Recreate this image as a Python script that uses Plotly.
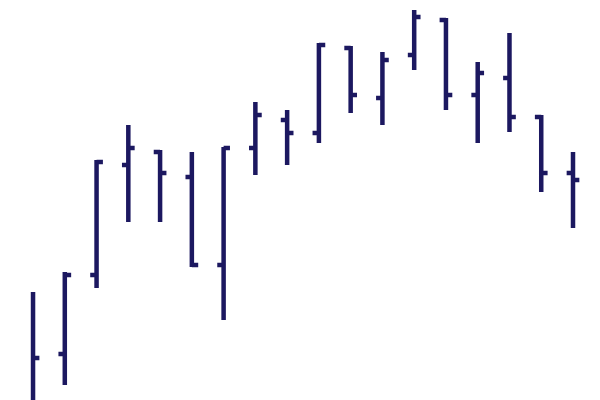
import plotly.graph_objects as go

x_idx = list(range(18))
open_ = [7.5, 21.5, 41.25, 68.75, 72, 65.75, 43.75, 73, 80, 76.75, 98, 85.5, 96.25, 105, 86.25, 90.5, 80.75, 66.75]
high = [37, 42, 70, 78.75, 72.5, 72, 73.25, 84.5, 82.5, 99.25, 98.5, 97, 107.5, 105.5, 94.5, 101.75, 81.25, 72]
low = [5, 13.75, 38, 54.5, 54.5, 43.25, 30, 66.25, 68.75, 74.25, 81.75, 78.75, 92.5, 82.5, 74.25, 77, 62, 53]
close = [20.5, 41.25, 69.5, 73, 66.75, 43.75, 73, 81.25, 76.75, 98.75, 86.25, 95, 105.75, 86.25, 91.75, 80.75, 66.75, 65]

color = "#1c1860"
fig = go.Figure(go.Ohlc(
    x=x_idx, open=open_, high=high, low=low, close=close,
    increasing=dict(line=dict(color=color, width=4.5)),
    decreasing=dict(line=dict(color=color, width=4.5)),
    tickwidth=0.2,
    hoverinfo="skip",
))
fig.update_layout(
    width=600, height=400,
    margin=dict(l=0, r=0, t=0, b=0),
    paper_bgcolor="white", plot_bgcolor="white",
    showlegend=False,
    hovermode=False,
    xaxis=dict(range=[-1.04, 17.85], visible=False, rangeslider=dict(visible=False), fixedrange=True),
    yaxis=dict(range=[10, 110], visible=False, fixedrange=True),
)
fig.write_html(
    "out.html",
    config={"displayModeBar": False, "staticPlot": True},
    post_script="document.body.style.margin='0';document.body.style.overflow='hidden';",
)
